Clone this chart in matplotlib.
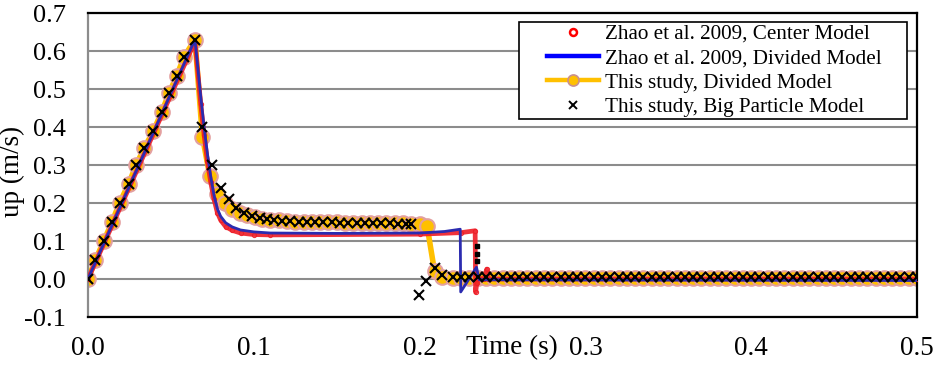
import numpy as np
import matplotlib
matplotlib.use('Agg')
import matplotlib.pyplot as plt
from matplotlib.lines import Line2D
from matplotlib.legend_handler import HandlerLine2D

plt.rcParams['font.family'] = ['Liberation Serif', 'DejaVu Serif']
plt.rcParams['axes.unicode_minus'] = False

# Zhao et al. 2009, center model (dense output, drawn through its break points)
t_center = [0.0, 0.0645, 0.068, 0.070, 0.072, 0.074, 0.076, 0.078, 0.080, 0.083,
            0.087, 0.092, 0.100, 0.110, 0.200, 0.225, 0.2335, 0.2338, 0.2345,
            0.2355, 0.239, 0.2405, 0.2415, 0.500]
up_center = [0.0, 0.625, 0.46, 0.38, 0.31, 0.255, 0.21, 0.175, 0.155, 0.138,
             0.128, 0.121, 0.117, 0.116, 0.118, 0.122, 0.127, -0.035, -0.01,
             0.002, 0.0, 0.026, 0.0, 0.0]

# Zhao et al. 2009, divided model
t_divided = [0.0, 0.0645, 0.068, 0.070, 0.072, 0.074, 0.076, 0.078, 0.080, 0.083,
             0.087, 0.092, 0.100, 0.110, 0.150, 0.200, 0.215, 0.2245, 0.2248,
             0.2343, 0.236, 0.500]
up_divided = [0.0, 0.63, 0.48, 0.40, 0.33, 0.27, 0.22, 0.185, 0.165, 0.148,
              0.137, 0.129, 0.124, 0.121, 0.12, 0.121, 0.125, 0.131, -0.034,
              0.031, -0.002, -0.004]

# common output times after the particle has stopped
t_tail = [0.220, 0.225, 0.230, 0.235, 0.240, 0.245, 0.250, 0.255, 0.260, 0.265,
          0.270, 0.275, 0.280, 0.285, 0.290, 0.295, 0.300, 0.305, 0.310, 0.315,
          0.320, 0.325, 0.330, 0.335, 0.340, 0.345, 0.350, 0.355, 0.360, 0.365,
          0.370, 0.375, 0.380, 0.385, 0.390, 0.395, 0.400, 0.405, 0.410, 0.415,
          0.420, 0.425, 0.430, 0.435, 0.440, 0.445, 0.450, 0.455, 0.460, 0.465,
          0.470, 0.475, 0.480, 0.485, 0.490, 0.495, 0.500]

# this study, divided model
t_study = [0.0, 0.0045, 0.0095, 0.0145, 0.019, 0.0245, 0.029, 0.034, 0.0395,
           0.0445, 0.049, 0.0535, 0.058, 0.0645, 0.069, 0.0735, 0.078, 0.0825,
           0.087, 0.0915, 0.096, 0.1005, 0.105, 0.110, 0.115, 0.120, 0.125, 0.130,
           0.135, 0.140, 0.145, 0.150, 0.155, 0.160, 0.165, 0.170, 0.175, 0.180,
           0.185, 0.190, 0.195, 0.200, 0.2045, 0.209, 0.2135] + t_tail
up_study = [0.0, 0.05, 0.10, 0.15, 0.20, 0.25, 0.30, 0.345, 0.39,
            0.44, 0.49, 0.535, 0.585, 0.63, 0.375, 0.27, 0.225, 0.20,
            0.185, 0.175, 0.168, 0.163, 0.159, 0.156, 0.154, 0.152, 0.151, 0.15,
            0.15, 0.15, 0.149, 0.149, 0.148, 0.148, 0.148, 0.148, 0.147, 0.147,
            0.147, 0.147, 0.146, 0.146, 0.14, 0.02, 0.004,
            0.003, 0.003, 0.003, 0.003, 0.003, 0.003, 0.003, 0.003, 0.003, 0.003,
            0.003, 0.003, 0.003, 0.003, 0.003, 0.003, 0.003, 0.003, 0.003, 0.003,
            0.003, 0.003, 0.003, 0.003, 0.003, 0.003, 0.003, 0.003, 0.003, 0.003,
            0.003, 0.003, 0.003, 0.003, 0.003, 0.003, 0.003, 0.003, 0.003, 0.003,
            0.003, 0.003, 0.003, 0.003, 0.003, 0.003, 0.003, 0.003, 0.003, 0.003,
            0.003, 0.003, 0.003, 0.003, 0.003, 0.003, 0.003]

# this study, big particle model
t_big = [0.0, 0.0045, 0.0095, 0.0145, 0.019, 0.0245, 0.029, 0.034, 0.0395,
         0.0445, 0.049, 0.0535, 0.058, 0.0645, 0.069, 0.075, 0.080, 0.085, 0.089,
         0.094, 0.099, 0.104, 0.108, 0.112, 0.117, 0.122, 0.127, 0.132, 0.137,
         0.142, 0.147, 0.152, 0.157, 0.162, 0.167, 0.172, 0.177, 0.182, 0.187,
         0.1915, 0.195, 0.1995, 0.204, 0.209, 0.2135] + t_tail
up_big = [0.0, 0.05, 0.10, 0.15, 0.20, 0.25, 0.30, 0.345, 0.39,
          0.44, 0.49, 0.535, 0.585, 0.63, 0.40, 0.30, 0.24, 0.21, 0.186,
          0.173, 0.165, 0.16, 0.157, 0.155, 0.153, 0.152, 0.151, 0.15, 0.15,
          0.149, 0.149, 0.148, 0.148, 0.148, 0.147, 0.147, 0.147, 0.147, 0.146,
          0.146, 0.146, -0.042, -0.005, 0.03, 0.01,
          0.006, 0.006, 0.006, 0.006, 0.006, 0.006, 0.006, 0.006, 0.006, 0.006,
          0.006, 0.006, 0.006, 0.006, 0.006, 0.006, 0.006, 0.006, 0.006, 0.006,
          0.006, 0.006, 0.006, 0.006, 0.006, 0.006, 0.006, 0.006, 0.006, 0.006,
          0.006, 0.006, 0.006, 0.006, 0.006, 0.006, 0.006, 0.006, 0.006, 0.006,
          0.006, 0.006, 0.006, 0.006, 0.006, 0.006, 0.006, 0.006, 0.006, 0.006,
          0.006, 0.006, 0.006, 0.006, 0.006, 0.006, 0.006]

# stray output points at the center model's rebound
t_dots = [0.2348, 0.2348, 0.2348]
up_dots = [0.087, 0.067, 0.048]

y_ticks = [-0.1, 0.0, 0.1, 0.2, 0.3, 0.4, 0.5, 0.6, 0.7]
x_ticks = [0.0, 0.1, 0.2, 0.3, 0.4, 0.5]

ORANGE = '#FFC000'
ORANGE_EDGE = '#E3A0A0'


class ShiftedLine(HandlerLine2D):
    # keep the legend sample in the right part of the handle box
    def create_artists(self, legend, orig_handle, xdescent, ydescent, width, height, fontsize, trans):
        cut = 0.33 * width
        return super().create_artists(legend, orig_handle, xdescent - cut, ydescent,
                                      width - cut, height, fontsize, trans)


fig = plt.figure(figsize=(9.38, 3.67), dpi=100)
ax = fig.add_axes([88 / 938, 50 / 367, 829 / 938, 304 / 367])

ax.plot(t_study, up_study, color=ORANGE, lw=4.0, marker='o', ms=10.5,
        mfc=ORANGE, mec=ORANGE_EDGE, mew=1.5, zorder=2)
ax.plot(t_center, up_center, color='#EE1C25', lw=3.4, marker='o', ms=3,
        mfc='none', mec='#EE1C25', mew=0.8, alpha=0.9, zorder=3)
ax.plot(t_divided, up_divided, color='#2B2BB0', lw=2.0, zorder=4)
ax.plot(t_big, up_big, ls='none', marker='x', ms=6.5, mew=1.5, color='black', zorder=5)
ax.plot(t_dots, up_dots, ls='none', marker='s', ms=2.2, color='black', zorder=5)

ax.set_xlim(0, 0.5)
ax.set_ylim(-0.1, 0.7)
ax.set_xticks(x_ticks)
ax.set_xticklabels(['%.1f' % v for v in x_ticks])
ax.set_yticks(y_ticks)
ax.set_yticklabels(['%.1f' % v for v in y_ticks])
ax.tick_params(axis='x', length=0, pad=14, labelsize=19.5)
ax.tick_params(axis='y', length=0, pad=16, labelsize=19)

ax.yaxis.grid(True, color='#8C8C8C', lw=1.5)
ax.set_axisbelow(True)
for side in ['top', 'right', 'bottom']:
    ax.spines[side].set_color('black')
    ax.spines[side].set_linewidth(1.6)
ax.spines['left'].set_color('#8C8C8C')
ax.spines['left'].set_linewidth(1.6)

ax.set_ylabel('up (m/s)', fontsize=19.5)
ax.yaxis.set_label_coords(-0.076, 0.48)
ax.text(0.511, -0.102, 'Time (s)', transform=ax.transAxes, ha='center', va='center',
        fontsize=19.5)

handles = [
    Line2D([], [], ls='none', marker='o', ms=5, mfc='white', mec='red', mew=1.8),
    Line2D([], [], color='#0000FF', lw=3.2),
    Line2D([], [], color=ORANGE, lw=3.2, marker='o', ms=8, mfc=ORANGE, mec='#C99090', mew=1.2),
    Line2D([], [], ls='none', marker='x', ms=5.5, mew=1.4, color='black'),
]
labels = ['Zhao et al. 2009, Center Model', 'Zhao et al. 2009, Divided Model',
          'This study, Divided Model', 'This study, Big Particle Model']
leg = ax.legend(handles, labels, loc='upper left',
                bbox_to_anchor=(431 / 829, 0.0, 388 / 829, 295 / 304), mode='expand',
                borderaxespad=0, borderpad=0.1, labelspacing=0.22, handlelength=3.7,
                handletextpad=0.25, numpoints=1, fontsize=15.2, fancybox=False,
                framealpha=1, edgecolor='black',
                handler_map={Line2D: ShiftedLine()})
leg.get_frame().set_linewidth(1.2)

fig.savefig('out.png', dpi=100)
